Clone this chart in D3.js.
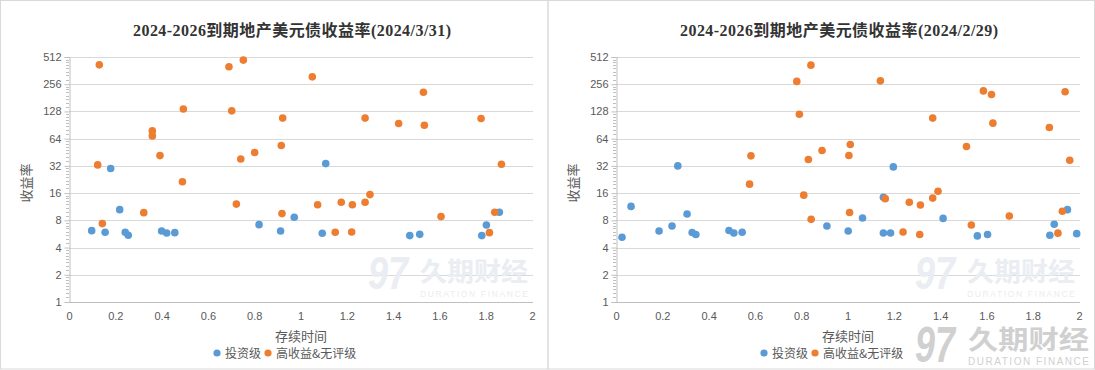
<!DOCTYPE html>
<html><head><meta charset="utf-8">
<script src="https://cdn.jsdelivr.net/npm/d3@7"></script>
<style>
html,body{margin:0;padding:0;background:#fff;}
svg{display:block;}
</style></head>
<body>
<svg id="chart" width="1095" height="370"></svg>
<script>
// ---- data ----
const titles = ["2024-2026到期地产美元债收益率(2024/3/31)", "2024-2026到期地产美元债收益率(2024/2/29)"];
const seriesNames = ["投资级", "高收益&无评级"];
const xTicks = [0, 0.2, 0.4, 0.6, 0.8, 1, 1.2, 1.4, 1.6, 1.8, 2];
const yTicks = [1, 2, 4, 8, 16, 32, 64, 128, 256, 512];
const xLabel = "存续时间";
const yLabel = "收益率";

// 2024/3/31 投资级 [duration, yield]
const marIG = [[0.098,6.15],[0.156,5.9],[0.18,29.9],[0.219,10.5],[0.243,5.9],[0.256,5.47],[0.40,6.1],[0.422,5.8],[0.457,5.85],[0.821,7.17],[0.914,6.1],[0.973,8.65],[1.094,5.75],[1.109,33.9],[1.472,5.42],[1.515,5.6],[1.783,5.42],[1.803,7.1],[1.859,9.84]];
// 2024/3/31 高收益&无评级
const marHY = [[0.124,32.8],[0.131,419],[0.144,7.36],[0.323,9.73],[0.36,78],[0.36,68.7],[0.393,41.6],[0.49,21.4],[0.494,136],[0.691,399],[0.703,130],[0.723,12.1],[0.742,38.2],[0.753,473],[0.802,45],[0.917,53.7],[0.92,9.5],[0.923,108],[1.051,309],[1.074,11.9],[1.15,5.9],[1.176,12.7],[1.221,5.95],[1.224,11.9],[1.279,108],[1.279,12.7],[1.30,15.4],[1.424,94],[1.531,209],[1.535,90],[1.607,8.8],[1.78,107],[1.816,5.85],[1.839,9.84],[1.868,33.4]];
// 2024/2/29 投资级
const febIG = [[0.026,5.2],[0.065,11.4],[0.186,6.1],[0.242,6.93],[0.267,32],[0.307,9.4],[0.329,5.86],[0.345,5.57],[0.488,6.17],[0.509,5.8],[0.545,5.9],[0.911,6.93],[1.003,6.1],[1.065,8.5],[1.155,14.4],[1.155,5.8],[1.186,5.8],[1.198,31.2],[1.413,8.4],[1.561,5.38],[1.605,5.57],[1.874,5.47],[1.893,7.25],[1.95,10.5],[1.99,5.7]];
// 2024/2/29 高收益&无评级
const febHY = [[0.577,20.1],[0.583,41.3],[0.781,275],[0.792,119],[0.811,15.2],[0.831,37.7],[0.842,416],[0.843,8.2],[0.89,47.4],[1.006,41.7],[1.009,9.77],[1.012,55.2],[1.142,279],[1.163,13.9],[1.24,5.95],[1.267,12.7],[1.312,5.57],[1.315,11.8],[1.368,108],[1.368,14.1],[1.391,16.8],[1.514,52.5],[1.535,7.1],[1.587,216],[1.622,197],[1.628,95],[1.699,8.94],[1.872,85],[1.909,5.77],[1.928,10.1],[1.94,211],[1.96,37]];

const colors = ["#5B9BD5", "#ED7D31"];
const panels = [
  {dx: 0, title: titles[0], ig: marIG, hy: marHY},
  {dx: 547, title: titles[1], ig: febIG, hy: febHY}
];

const svg = d3.select("#chart");
const tickFont = "'Liberation Sans', Arial, sans-serif";
const cjkFont = "'Noto Sans CJK SC', 'Liberation Sans', sans-serif";

// panel borders
svg.append("rect").attr("x",0.5).attr("y",0.5).attr("width",547.5).attr("height",368.5)
  .attr("fill","none").attr("stroke","#d9d9d9");
svg.append("rect").attr("x",548).attr("y",0.5).attr("width",546.5).attr("height",368.5)
  .attr("fill","none").attr("stroke","#d9d9d9");

// watermark: o = {x, y(top), logoW, logoH, cnX, cnW, cnSize, cnBase, enSize, enBase, enW, col}
function watermark(g, o) {
  const w = g.append("g").attr("fill", o.col);
  w.append("text").attr("x", o.x).attr("y", o.y + o.logoH * 0.93)
    .attr("font-family","'Liberation Sans', sans-serif")
    .attr("font-weight","bold").attr("font-style","italic").attr("font-size", o.logoH * 1.3)
    .attr("textLength", o.logoW).attr("lengthAdjust","spacingAndGlyphs").text("97");
  w.append("text").attr("x", o.cnX).attr("y", o.cnBase).attr("font-family", cjkFont).attr("font-weight","bold")
    .attr("font-size", o.cnSize).attr("textLength", o.cnW).attr("lengthAdjust","spacingAndGlyphs").text("久期财经");
  w.append("text").attr("x", o.cnX).attr("y", o.enBase).attr("font-family","'Liberation Sans', sans-serif")
    .attr("font-size", o.enSize).attr("textLength", o.cnW).attr("lengthAdjust","spacing").text("DURATION FINANCE");
}

panels.forEach(p => {
  const g = svg.append("g");
  const x = d3.scaleLinear().domain([0, 2]).range([69 + p.dx, 532 + p.dx]);
  const y = d3.scaleLog().base(2).domain([1, 512]).range([302, 57]);
  const x0 = x(0), x1 = x(2) + 1;

  // gridlines
  g.append("g").selectAll("line").data(yTicks.slice(1)).join("line")
    .attr("x1", x0).attr("x2", x1)
    .attr("y1", d => Math.round(y(d)) + 0.5).attr("y2", d => Math.round(y(d)) + 0.5)
    .attr("stroke", "#d9d9d9").attr("stroke-width", 1);

  // watermark inside plot
  watermark(g, {x: 368 + p.dx, y: 256, logoW: 40, logoH: 36, cnX: 420 + p.dx, cnW: 108, cnSize: 26,
                cnBase: 281, enSize: 8.5, enBase: 297, col: "#eaedf1"});

  // minor ticks on y axis
  const minor = [];
  yTicks.slice(0, -1).forEach(t => { for (let i = 1; i < 8; i++) minor.push(t * (1 + i / 8)); });
  g.append("g").selectAll("line").data(minor).join("line")
    .attr("x1", x0 - 3).attr("x2", x0)
    .attr("y1", d => Math.round(y(d)) + 0.5).attr("y2", d => Math.round(y(d)) + 0.5)
    .attr("stroke", "#bfbfbf");

  // y axis
  const yAxis = d3.axisLeft(y).tickValues(yTicks).tickFormat(d3.format("d")).tickSize(5).tickPadding(3);
  const ya = g.append("g").attr("transform", `translate(${Math.round(x0) + 0.5},0)`).call(yAxis);
  ya.select(".domain").attr("stroke", "#bfbfbf");
  ya.selectAll(".tick line").attr("stroke", "#bfbfbf");
  ya.selectAll(".tick text").attr("fill", "#595959").attr("font-family", tickFont).attr("font-size", 11);

  // x axis
  const xAxis = d3.axisBottom(x).tickValues(xTicks).tickFormat(d => String(+d.toFixed(1))).tickSize(0).tickPadding(10);
  const xa = g.append("g").attr("transform", `translate(0,${Math.round(y(1)) + 0.5})`).call(xAxis);
  xa.select(".domain").attr("stroke", "#bfbfbf").attr("d", `M${x0},0H${x1}`);
  xa.selectAll(".tick text").attr("fill", "#595959").attr("font-family", tickFont).attr("font-size", 11);

  // title
  g.append("text").attr("x", 292 + p.dx).attr("y", 36).attr("text-anchor", "middle")
    .attr("font-family", "'Liberation Serif', 'Noto Sans CJK SC', serif").attr("font-weight", "bold")
    .attr("font-size", 16).attr("fill", "#333333")
    .attr("textLength", 318).attr("lengthAdjust", "spacing").text(p.title);

  // axis titles
  g.append("text").attr("x", 301 + p.dx).attr("y", 341).attr("text-anchor", "middle")
    .attr("font-family", cjkFont).attr("font-size", 13).attr("fill", "#595959").text(xLabel);
  g.append("text").attr("transform", `translate(${31 + p.dx},183) rotate(-90)`).attr("text-anchor", "middle")
    .attr("font-family", cjkFont).attr("font-size", 13).attr("fill", "#595959").text(yLabel);

  // points
  [p.ig, p.hy].forEach((data, i) => {
    g.append("g").selectAll("circle").data(data).join("circle")
      .attr("cx", d => x(d[0])).attr("cy", d => y(d[1])).attr("r", 3.8)
      .attr("fill", colors[i]);
  });

  // legend
  const lg = g.append("g");
  const lx = [217 + p.dx, 268 + p.dx];
  seriesNames.forEach((n, i) => {
    lg.append("circle").attr("cx", lx[i]).attr("cy", 353).attr("r", 3.6).attr("fill", colors[i]);
    lg.append("text").attr("x", lx[i] + 8).attr("y", 357.5).attr("font-family", cjkFont)
      .attr("font-size", 12).attr("fill", "#595959").text(n);
  });
});

// bottom-right watermark
watermark(svg, {x: 915, y: 327, logoW: 40, logoH: 38, cnX: 968, cnW: 121, cnSize: 26,
                cnBase: 349, enSize: 10, enBase: 365, col: "#d0d0d0"});
</script>
</body></html>
